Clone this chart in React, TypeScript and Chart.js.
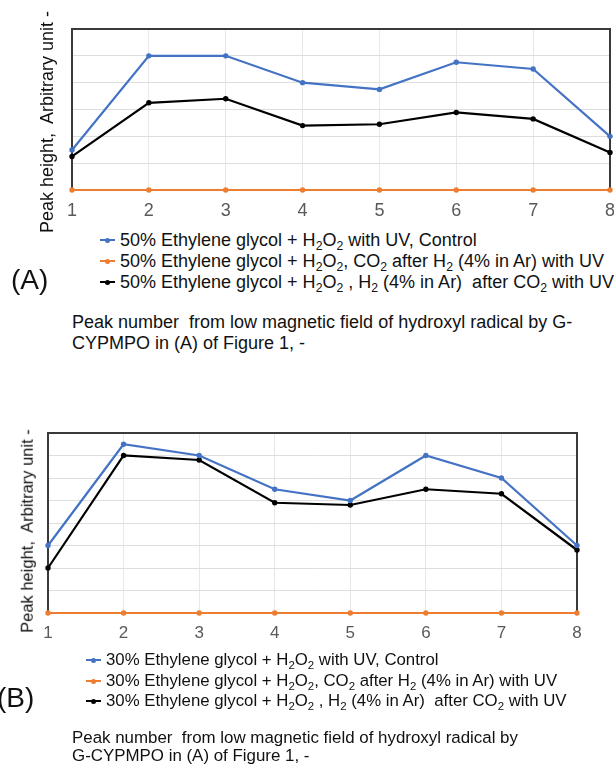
import React, { useEffect, useRef } from "react";
import { Chart, registerables } from "chart.js";

Chart.register(...registerables);

// ---------- data ----------
const peakNumbers = ["1", "2", "3", "4", "5", "6", "7", "8"];

const aControl = [1.49, 5.0, 5.0, 4.0, 3.75, 4.76, 4.51, 2.0];
const aCo2AfterH2 = [0, 0, 0, 0, 0, 0, 0, 0];
const aH2AfterCo2 = [1.25, 3.25, 3.4, 2.4, 2.45, 2.89, 2.65, 1.4];

const bControl = [3.0, 7.5, 7.0, 5.5, 5.0, 7.0, 6.0, 3.0];
const bCo2AfterH2 = [0, 0, 0, 0, 0, 0, 0, 0];
const bH2AfterCo2 = [2.0, 7.0, 6.8, 4.9, 4.8, 5.5, 5.3, 2.8];

const aYMax = 6;
const bYMax = 8;

const yTitleText = "Peak height,  Arbitrary unit -";
const captionA = ["Peak number  from low magnetic field of hydroxyl radical by G-", "CYPMPO in (A) of Figure 1, -"];
const captionB = ["Peak number  from low magnetic field of hydroxyl radical by", "G-CYPMPO in (A) of Figure 1, -"];

// ---------- styles ----------
const BLUE = "#4472C4";
const ORANGE = "#ED7D31";
const BLACK = "#000000";
const FONT = "'Liberation Sans', Arial, Helvetica, sans-serif";

const boxPlugin = {
  id: "plotBox",
  beforeDatasetsDraw(chart: any) {
    const { ctx, chartArea: a } = chart;
    ctx.save();
    ctx.strokeStyle = "#3a3a3a";
    ctx.lineWidth = 2;
    ctx.strokeRect(a.left, a.top, a.right - a.left, a.bottom - a.top);
    ctx.restore();
  },
};

type Series = { label: string; data: number[]; color: string };

function LineChart(props: {
  series: Series[];
  yMax: number;
  width: number;
  height: number;
  padding: { left: number; right: number; top: number; bottom: number };
  axisHeight: number;
  tickSize: number;
  tickPadding: number;
}) {
  const ref = useRef<HTMLCanvasElement>(null);
  useEffect(() => {
    const chart = new Chart(ref.current as HTMLCanvasElement, {
      type: "line",
      data: {
        labels: peakNumbers,
        datasets: props.series.map((s) => ({
          label: s.label,
          data: s.data,
          borderColor: s.color,
          backgroundColor: s.color,
          pointBackgroundColor: s.color,
          pointBorderColor: s.color,
          borderWidth: 2.2,
          pointRadius: 2.7,
          pointBorderWidth: 0,
          tension: 0,
          clip: false as any,
        })),
      },
      options: {
        animation: false,
        responsive: false,
        maintainAspectRatio: false,
        layout: { padding: props.padding },
        plugins: { legend: { display: false }, tooltip: { enabled: false }, title: { display: false } },
        scales: {
          x: {
            grid: { color: "#e8e8e8", drawTicks: false, lineWidth: 1 },
            border: { display: false },
            ticks: {
              color: "#595959",
              font: { family: FONT, size: props.tickSize },
              padding: props.tickPadding,
              maxRotation: 0,
              autoSkip: false,
            },
            afterFit: (s: any) => {
              s.height = props.axisHeight;
              s.paddingLeft = 0;
              s.paddingRight = 0;
            },
          },
          y: {
            min: 0,
            max: props.yMax,
            ticks: { display: false, stepSize: 1 },
            grid: { color: "#dedede", drawTicks: false, lineWidth: 1 },
            border: { display: false },
            afterFit: (s: any) => {
              s.width = 0;
              s.paddingTop = 0;
              s.paddingBottom = 0;
            },
          },
        },
      } as any,
      plugins: [boxPlugin],
    });
    return () => chart.destroy();
  }, []);
  return (
    <canvas
      ref={ref}
      width={props.width}
      height={props.height}
      style={{ display: "block", width: props.width, height: props.height }}
    />
  );
}

const Sub = ({ children }: { children: React.ReactNode }) => (
  <span style={{ fontSize: "68%", position: "relative", top: "0.35em", lineHeight: 0 }}>{children}</span>
);

function Marker({ color }: { color: string }) {
  return (
    <span style={{ position: "relative", display: "inline-block", width: 15, height: 10, marginRight: 5 }}>
      <span style={{ position: "absolute", left: 0, right: 0, top: 4, height: 2, background: color }} />
      <span
        style={{ position: "absolute", left: 5, top: 2.5, width: 5, height: 5, borderRadius: "50%", background: color }}
      />
    </span>
  );
}

function legendTexts(pct: string): React.ReactNode[] {
  return [
    <>
      {pct}% Ethylene glycol + H<Sub>2</Sub>O<Sub>2</Sub> with UV, Control
    </>,
    <>
      {pct}% Ethylene glycol + H<Sub>2</Sub>O<Sub>2</Sub>, CO<Sub>2</Sub> after H<Sub>2</Sub> (4% in Ar) with UV
    </>,
    <>
      {pct}% Ethylene glycol + H<Sub>2</Sub>O<Sub>2</Sub> , H<Sub>2</Sub> (4% in Ar)  after CO<Sub>2</Sub> with UV
    </>,
  ];
}

function Legend(props: { left: number; rows: number[]; pct: string; fontSize: number }) {
  const colors = [BLUE, ORANGE, BLACK];
  const texts = legendTexts(props.pct);
  return (
    <>
      {props.rows.map((cy, i) => (
        <div
          key={i}
          style={{
            position: "absolute",
            left: props.left,
            top: cy - 12,
            height: 24,
            display: "flex",
            alignItems: "center",
            whiteSpace: "pre",
            fontSize: props.fontSize,
            color: "#111",
          }}
        >
          <Marker color={colors[i]} />
          <span>{texts[i]}</span>
        </div>
      ))}
    </>
  );
}

function YTitle(props: { cx: number; cy: number; size: number }) {
  return (
    <div
      style={{
        position: "absolute",
        left: props.cx,
        top: props.cy,
        transform: "translate(-50%, -50%) rotate(-90deg)",
        whiteSpace: "pre",
        fontSize: props.size,
        color: "#111",
        lineHeight: 1,
      }}
    >
      {yTitleText}
    </div>
  );
}

function Caption(props: { left: number; lines: string[]; ys: number[]; size: number }) {
  return (
    <>
      {props.lines.map((t, i) => (
        <div
          key={i}
          style={{
            position: "absolute",
            left: props.left,
            top: props.ys[i] - 11,
            height: 22,
            lineHeight: "22px",
            whiteSpace: "pre",
            fontSize: props.size,
            color: "#111",
          }}
        >
          {t}
        </div>
      ))}
    </>
  );
}

export default function App() {
  const seriesA: Series[] = [
    { label: "50% Ethylene glycol + H2O2 with UV, Control", data: aControl, color: BLUE },
    { label: "50% Ethylene glycol + H2O2, CO2 after H2 (4% in Ar) with UV", data: aCo2AfterH2, color: ORANGE },
    { label: "50% Ethylene glycol + H2O2 , H2 (4% in Ar)  after CO2 with UV", data: aH2AfterCo2, color: BLACK },
  ];
  const seriesB: Series[] = [
    { label: "30% Ethylene glycol + H2O2 with UV, Control", data: bControl, color: BLUE },
    { label: "30% Ethylene glycol + H2O2, CO2 after H2 (4% in Ar) with UV", data: bCo2AfterH2, color: ORANGE },
    { label: "30% Ethylene glycol + H2O2 , H2 (4% in Ar)  after CO2 with UV", data: bH2AfterCo2, color: BLACK },
  ];
  return (
    <div
      style={{
        position: "absolute",
        left: 0,
        top: 0,
        width: 614,
        height: 764,
        overflow: "hidden",
        background: "#fff",
        fontFamily: FONT,
      }}
    >
      {/* Chart A */}
      <div style={{ position: "absolute", left: 0, top: 0 }}>
        <LineChart
          series={seriesA}
          yMax={aYMax}
          width={614}
          height={225}
          padding={{ left: 72, right: 4, top: 29, bottom: 0 }}
          axisHeight={35}
          tickSize={18}
          tickPadding={10}
        />
      </div>
      <YTitle cx={47} cy={122} size={18} />
      <Legend left={100} rows={[240, 261, 282]} pct="50" fontSize={18} />
      <div style={{ position: "absolute", left: 11, top: 280 - 17, height: 34, lineHeight: "34px", fontSize: 28, color: "#111" }}>
        (A)
      </div>
      <Caption left={72} lines={captionA} ys={[322, 343]} size={18} />

      {/* Chart B */}
      <div style={{ position: "absolute", left: 0, top: 400 }}>
        <LineChart
          series={seriesB}
          yMax={bYMax}
          width={614}
          height={250}
          padding={{ left: 48, right: 37, top: 33, bottom: 0 }}
          axisHeight={37}
          tickSize={17}
          tickPadding={10}
        />
      </div>
      <YTitle cx={27} cy={531} size={16.5} />
      <Legend left={86} rows={[660, 681, 701]} pct="30" fontSize={16.8} />
      <div style={{ position: "absolute", left: -3, top: 698 - 17, height: 34, lineHeight: "34px", fontSize: 28, color: "#111" }}>
        (B)
      </div>
      <Caption left={72} lines={captionB} ys={[738, 756]} size={16.9} />
    </div>
  );
}
